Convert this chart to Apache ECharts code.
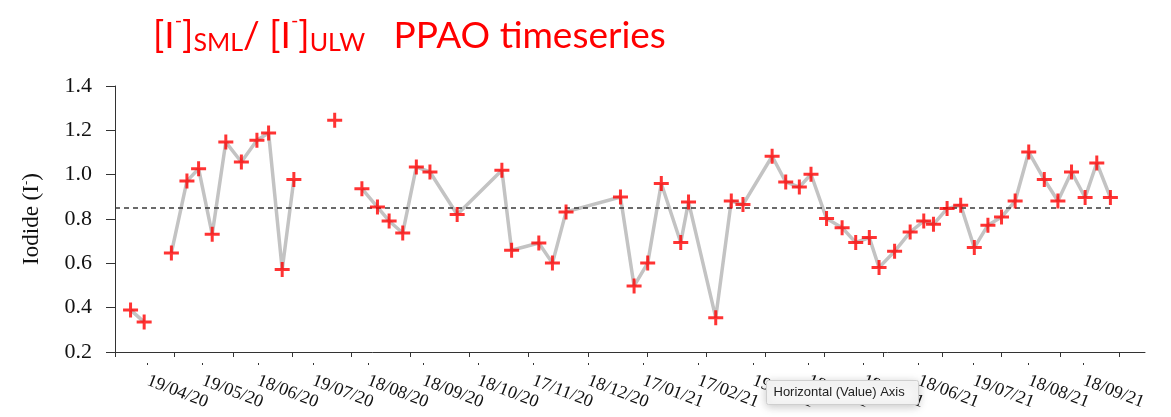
<!DOCTYPE html>
<html><head><meta charset="utf-8">
<script src="https://cdn.jsdelivr.net/npm/echarts@6/dist/echarts.min.js"></script>
<style>html,body{margin:0;padding:0;background:#fff}#c{width:1171px;height:417px}</style>
</head><body><div id="c"></div>
<script>
// Sample dates as days since 19/04/2020
const sampleDays = [8,15,29,37,43,50,57,65,73,79, 86,92,113,127,135,141,148,155,162,176,
  199,204,218,225,232,260,267,274,281,291, 295,309,317,323,338,345,352,358,366,374,
  381,388,393,401,409,416,421,428,435,442, 449,456,463,470,478,485,492,499,505,512];
// [I-]SML / [I-]ULW ratio
const iodideRatio = [0.39,0.335,0.647,0.971,1.027,0.731,1.147,1.057,1.155,1.188,
  0.572,0.978,1.245,0.937,0.854,0.791,0.737,1.035,1.012,0.820,
  1.020,0.659,0.692,0.601,0.832,0.899,0.498,0.601,0.960,0.694,
  0.877,0.355,0.881,0.865,1.083,0.967,0.944,1.002,0.802,0.761,
  0.694,0.716,0.581,0.654,0.741,0.791,0.776,0.847,0.862,0.671,
  0.772,0.809,0.881,1.102,0.978,0.881,1.012,0.897,1.053,0.897];
// indices after which the connecting line is broken
const breaksAfter = [1, 11, 12];
// mean reference level (dashed)
const refLevel = 0.85;
const refStartDay = 0;
const refEndDay = 512.5;
// x axis ticks / labels
const xTickStep = 30.4;
const xTickLabels = ['19/04/20','19/05/20','18/06/20','19/07/20','18/08/20','18/09/20','18/10/20','17/11/20','18/12/20',
  '17/01/21','17/02/21','19/03/21','18/04/21','19/05/21','18/06/21','19/07/21','18/08/21','18/09/21'];
const yMin = 0.2, yMax = 1.4, yStep = 0.2;

const X_MAX = 529.8;
const tickDays = xTickLabels.map((_, k) => +(k * xTickStep).toFixed(3));
const labelDays = xTickLabels.map((_, k) => +(16.8 + 28.32 * k).toFixed(3));

const lineData = [];
const pointData = [];
sampleDays.forEach((d, i) => {
  lineData.push([d, iodideRatio[i]]);
  pointData.push([d, iodideRatio[i]]);
  if (breaksAfter.includes(i)) lineData.push([(d + sampleDays[i + 1]) / 2, '-']);
});

const plusPath = 'path://M5.6,0 H8.4 V5.6 H14 V8.4 H8.4 V14 H5.6 V8.4 H0 V5.6 H5.6 Z';
const serif = '"Liberation Serif", "Times New Roman", serif';
const titleFont = 'Lato, "Open Sans", sans-serif';

const chart = echarts.init(document.getElementById('c'), null, {renderer: 'canvas'});
chart.setOption({
  animation: false,
  backgroundColor: '#fff',
  title: {
    left: 148, top: 6,
    text: '{n|[I}{sup|-}{n|]}{sub|SML}{n|/ [I}{sup|-}{n|]}{sub|ULW}{n|   PPAO timeseries}',
    textStyle: {
      fontWeight: 'normal',
      rich: {
        n: {fontFamily: titleFont, fontWeight: 'normal', fontSize: 37, color: '#ff0000', lineHeight: 44, verticalAlign: 'bottom'},
        sup: {fontFamily: titleFont, fontWeight: 'normal', fontSize: 20, color: '#ff0000', lineHeight: 20, verticalAlign: 'top'},
        sub: {fontFamily: titleFont, fontWeight: 'normal', fontSize: 25, color: '#ff0000', lineHeight: 22, verticalAlign: 'bottom'}
      }
    }
  },
  grid: {left: 115, right: 26, top: 86, bottom: 65, containLabel: false},
  xAxis: [{
    type: 'value', min: 0, max: X_MAX,
    axisLine: {show: true, lineStyle: {color: '#333', width: 1}},
    axisTick: {show: true, length: 5, customValues: tickDays, lineStyle: {color: '#333'}},
    axisLabel: {show: false},
    splitLine: {show: false}
  }, {
    type: 'value', min: 0, max: X_MAX, position: 'bottom', offset: 11,
    axisLine: {show: false},
    axisTick: {show: true, length: 2, customValues: labelDays, lineStyle: {color: '#333'}},
    axisLabel: {
      show: true, customValues: labelDays, rotate: -21, margin: 17,
      fontFamily: serif, fontSize: 18, color: '#111',
      formatter: v => { const i = labelDays.findIndex(d => Math.abs(d - v) < 1e-6); return i >= 0 ? xTickLabels[i] : ''; }
    },
    splitLine: {show: false}
  }],
  yAxis: {
    type: 'value', min: yMin, max: yMax, interval: yStep,
    name: 'Iodide (I{sup|-})', nameLocation: 'middle', nameGap: 72,
    nameTextStyle: {fontFamily: serif, fontSize: 23, color: '#111',
      rich: {sup: {fontFamily: serif, fontSize: 13, color: '#111', verticalAlign: 'top'}}},
    axisLine: {show: true, lineStyle: {color: '#333', width: 1}},
    axisTick: {show: true, length: 9, lineStyle: {color: '#333'}},
    axisLabel: {margin: 23, fontFamily: serif, fontSize: 22, color: '#111', formatter: v => v.toFixed(1)},
    splitLine: {show: false}
  },
  series: [{
    type: 'line', data: lineData, connectNulls: false, symbol: 'none',
    lineStyle: {color: '#c3c3c3', width: 3.5}, z: 2
  }, {
    type: 'line', data: [[refStartDay, refLevel], [refEndDay, refLevel]], symbol: 'none',
    lineStyle: {color: '#3a3a3a', width: 1.5, type: [5, 4]}, z: 3
  }, {
    type: 'scatter', data: pointData, symbol: plusPath, symbolSize: 15,
    itemStyle: {color: '#ff0000'}, z: 4
  }],
  graphic: [{
    type: 'group', left: 766, top: 380, zlevel: 2, z: 100,
    children: [{
      type: 'rect', shape: {x: 0, y: 0, width: 152, height: 24, r: 2}, zlevel: 2,
      style: {fill: '#f6f6f6', stroke: '#cfcfcf', lineWidth: 1, shadowBlur: 10, shadowColor: 'rgba(0,0,0,0.22)', shadowOffsetY: 2}
    }, {
      type: 'text', x: 7, y: 12, zlevel: 2, z: 101,
      style: {text: 'Horizontal (Value) Axis', fontFamily: '"Liberation Sans", Arial, sans-serif', fontSize: 13, fill: '#222', verticalAlign: 'middle'}
    }]
  }]
});
</script></body></html>
